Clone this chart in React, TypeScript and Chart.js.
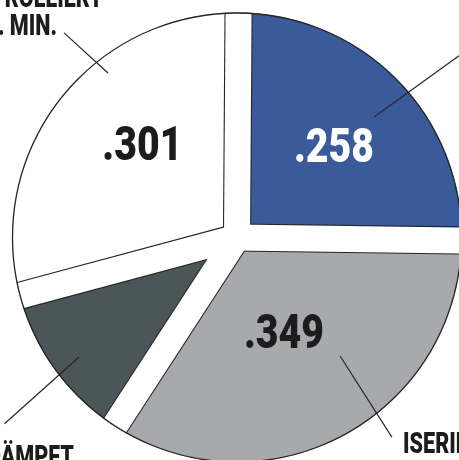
import React, { useEffect, useRef } from "react";
import { Chart, registerables } from "chart.js";

Chart.register(...registerables);

// ---- data ----
const categories = ["BLAU", "PASTEURISIERT", "GEDÄMPFT", "KONTROLLIERT"];
const values = [0.258, 0.349, 0.12, 0.301];
const valueLabels = [".258", ".349", "", ".301"];
const sliceColors = ["#3b5a9a", "#a8a9ad", "#4a5658", "#ffffff"];
const valueLabelColors = ["#ffffff", "#1c1c1c", "#ffffff", "#1c1c1c"];

// value label placement (deg clockwise from top, fraction of radius)
const valueLabelAngles = [48, 154.5, 0, 313.5];
const valueLabelRadii = [0.58, 0.485, 0, 0.58];

// leader lines (deg from top, inner/outer fraction of radius)
const leaderAngles = [
  [48.7, 50.7],
  [139, 142.2],
  [232.9, 231.3],
  [321.9, 319.8],
];
const leaderRadii = [
  [0.811, 1.275],
  [0.698, 1.123],
  [0.88, 1.324],
  [0.929, 1.191],
];

// category text pieces (visible parts in the crop)
const categoryTexts = [
  { text: "KONTROLLIERT", x: 103, y: 7, align: "right" },
  { text: ". MIN.", x: 57, y: 35, align: "right" },
  { text: "GEDÄMPFT", x: 74, y: 466, align: "right" },
  { text: "ISERIERT", x: 403, y: 453, align: "left" },
  { text: "30 SEK.", x: 403, y: 481, align: "left" },
];

const INK = "#262626";
const GAP = 26;

const decorPlugin = {
  id: "decor",
  afterDatasetsDraw(chart: any) {
    const meta = chart.getDatasetMeta(0);
    const arcs = meta.data as any[];
    if (!arcs.length) return;
    const cx = arcs[0].x;
    const cy = arcs[0].y;
    const R = arcs[0].outerRadius;
    const ctx: CanvasRenderingContext2D = chart.ctx;

    // gaps with thin outlines
    ctx.save();
    ctx.beginPath();
    ctx.arc(cx, cy, R, 0, Math.PI * 2);
    ctx.clip();
    for (const pass of [0, 1]) {
      for (const a of arcs) {
        ctx.save();
        ctx.translate(cx, cy);
        ctx.rotate(a.startAngle);
        ctx.fillStyle = pass === 0 ? INK : "#ffffff";
        const h = pass === 0 ? GAP / 2 + 1.1 : GAP / 2;
        ctx.fillRect(-2, -h, R + 4, 2 * h);
        ctx.restore();
      }
    }
    ctx.restore();

    // outer circle
    ctx.save();
    ctx.beginPath();
    ctx.arc(cx, cy, R - 0.5, 0, Math.PI * 2);
    ctx.lineWidth = 1.3;
    ctx.strokeStyle = INK;
    ctx.stroke();
    ctx.restore();

    const polar = (deg: number, r: number) => {
      const t = (deg * Math.PI) / 180;
      return [cx + Math.sin(t) * r, cy - Math.cos(t) * r];
    };

    // leader lines
    ctx.save();
    ctx.strokeStyle = INK;
    ctx.lineWidth = 1.2;
    leaderAngles.forEach((ang, i) => {
      const [x1, y1] = polar(ang[0], leaderRadii[i][0] * R);
      const [x2, y2] = polar(ang[1], leaderRadii[i][1] * R);
      ctx.beginPath();
      ctx.moveTo(x1, y1);
      ctx.lineTo(x2, y2);
      ctx.stroke();
    });
    ctx.restore();

    // value labels
    ctx.save();
    ctx.font = "900 49px Roboto, 'DejaVu Sans', sans-serif";
    ctx.textAlign = "center";
    ctx.textBaseline = "middle";
    valueLabels.forEach((lab, i) => {
      if (!lab) return;
      const [x, y] = polar(valueLabelAngles[i], valueLabelRadii[i] * R);
      ctx.save();
      ctx.translate(x, y);
      ctx.scale(0.8, 1);
      ctx.fillStyle = valueLabelColors[i];
      ctx.fillText(lab, 0, 0);
      ctx.restore();
    });
    ctx.restore();

    // category texts
    ctx.save();
    ctx.font = "900 30px Roboto, 'DejaVu Sans', sans-serif";
    ctx.textBaseline = "alphabetic";
    ctx.fillStyle = "#1c1c1c";
    categoryTexts.forEach((c) => {
      ctx.save();
      ctx.translate(c.x, c.y);
      ctx.scale(0.72, 1);
      ctx.textAlign = c.align as CanvasTextAlign;
      ctx.fillText(c.text, 0, 0);
      ctx.restore();
    });
    ctx.restore();
  },
};

export default function App() {
  const ref = useRef<HTMLCanvasElement | null>(null);
  useEffect(() => {
    if (!ref.current) return;
    const chart = new Chart(ref.current, {
      type: "pie",
      data: {
        labels: categories,
        datasets: [
          {
            data: values,
            backgroundColor: sliceColors,
            borderWidth: 0,
            hoverOffset: 0,
            offset: 0,
          },
        ],
      },
      options: {
        animation: false,
        responsive: false,
        devicePixelRatio: 1,
        events: [],
        radius: 225,
        rotation: 0.4,
        layout: { padding: { left: 15, top: 15, right: 0, bottom: 0 } },
        plugins: {
          legend: { display: false },
          tooltip: { enabled: false },
          title: { display: false },
        },
      } as any,
      plugins: [decorPlugin],
    });
    return () => chart.destroy();
  }, []);
  return (
    <div style={{ position: "absolute", left: 0, top: 0, width: 459, height: 460, background: "#fff" }}>
      <canvas ref={ref} width={459} height={460} style={{ display: "block" }} />
    </div>
  );
}
